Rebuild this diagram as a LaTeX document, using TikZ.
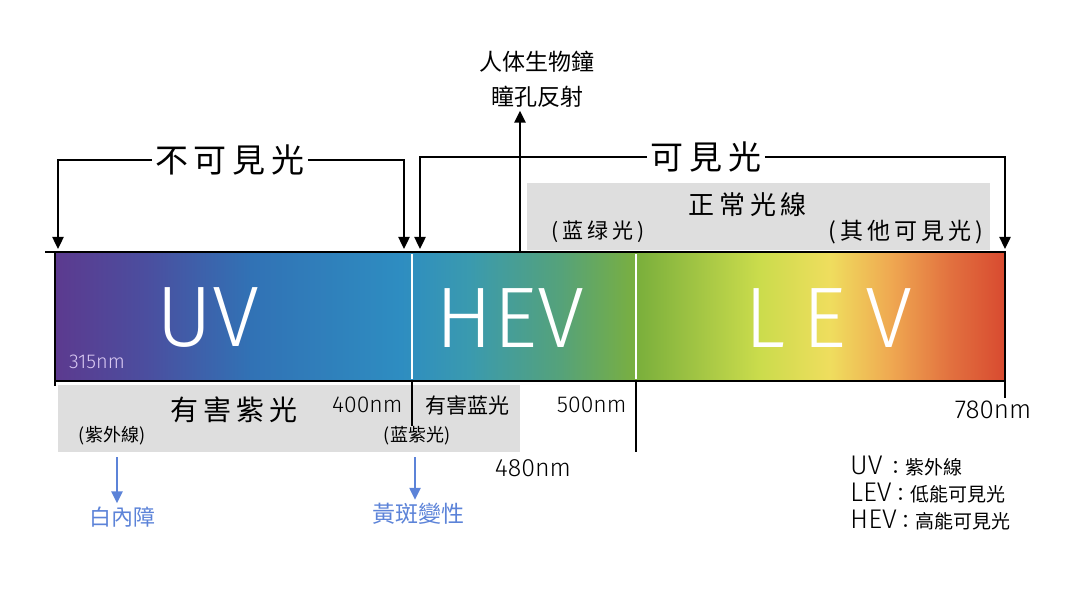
\documentclass[tikz,border=0pt]{standalone}
\usepackage{fontspec}
\setmainfont{Noto Sans CJK TC}
\newfontfamily\thin{Fira Sans}[UprightFont=* Light]
\newfontfamily\cjkwide{Noto Sans CJK TC}[LetterSpace=18]
\usetikzlibrary{arrows.meta}

\definecolor{sp1}{HTML}{5C3A8F}
\definecolor{sp2}{HTML}{4B4E9F}
\definecolor{sp3}{HTML}{3172B5}
\definecolor{sp4}{HTML}{2E8DC1}
\definecolor{sp5}{HTML}{3A9AAF}
\definecolor{sp6}{HTML}{55A27A}
\definecolor{sp7}{HTML}{7CB03C}
\definecolor{sp8}{HTML}{CBDC4C}
\definecolor{sp9}{HTML}{EFDD5E}
\definecolor{sp10}{HTML}{EFA851}
\definecolor{sp11}{HTML}{E2713F}
\definecolor{sp12}{HTML}{D84A30}
\definecolor{eyeblue}{HTML}{5C83D8}
\definecolor{boxgray}{HTML}{DEDEDE}
\definecolor{lilac}{HTML}{D9C9F2}

\pgfdeclarehorizontalshading{spectrum}{100bp}{color(0bp)=(sp1); color(25bp)=(sp1);
  color(29.8bp)=(sp2); color(35.3bp)=(sp3); color(43.2bp)=(sp4); color(46.8bp)=(sp5);
  color(51.6bp)=(sp6); color(55.8bp)=(sp7); color(62.1bp)=(sp8); color(65.8bp)=(sp9);
  color(69bp)=(sp10); color(72.1bp)=(sp11); color(75bp)=(sp12); color(100bp)=(sp12)}

\tikzset{
  arr/.style={-{Triangle[length=12pt,width=11pt]}, line width=2.4pt},
  eyearr/.style={arr, eyeblue},
  band/.style={white, font=\thin\fontsize{86}{90}\selectfont},
  nm/.style={font=\thin\fontsize{23}{26}\selectfont},
  title/.style={font=\cjkwide\fontsize{33}{36}\selectfont},
  sub/.style={font=\cjkwide\fontsize{21}{24}\selectfont},
  key/.style={anchor=west, inner sep=0pt, font=\fontsize{19}{22}\selectfont}
}

\begin{document}
\begin{tikzpicture}[x=1pt, y=-1pt]
  \useasboundingbox (0,0) rectangle (1080,615);

  % grey boxes
  \fill[boxgray] (527,183) rectangle (990,250);
  \fill[boxgray] (58,385) rectangle (520,452);

  % spectrum bar
  \shade[shading=spectrum] (55,252) rectangle (1005,381);
  \draw[line width=2.8pt] (45,252) -- (1005,252) -- (1005,398);
  \draw[line width=2.8pt] (55,252) -- (55,386);
  \draw[line width=2.6pt] (55,381) -- (1005,381);
  \draw[white, line width=2pt] (412,254) -- (412,379);
  \draw[white, line width=2pt] (636,254) -- (636,379);
  \draw[line width=1.6pt] (412,382) -- (412,426);
  \draw[line width=1.6pt] (636,382) -- (636,452);

  \node[band] (uv) at (208,318) {UV};
  \node[band] (hev) at (510,318) {HEV};
  \node[band] (lev) at (828,318) {L\hspace{18pt}E\hspace{18pt}V};
  \node[nm, lilac, font=\thin\fontsize{20}{22}\selectfont] (n315) at (97,362) {315nm};

  % titles and brackets
  \node[title] (invis) at (230,160) {不可見光};
  \node[title] (vis) at (706,157) {可見光};
  \node[align=center, font=\fontsize{23}{35}\selectfont] (clock) at (537,79) {人体生物鐘\\瞳孔反射};

  \coordinate (uvL) at (58,249);
  \coordinate (uvR) at (404,249);
  \coordinate (hevL) at (420,249);
  \coordinate (levR) at (1005,249);
  \coordinate (hevT) at (520,251);
  \draw[arr] (invis.west) -| (uvL);
  \draw[arr] (invis.east) -| (uvR);
  \draw[arr] (vis.west) -| (hevL);
  \draw[arr] (vis.east) -| (levR);
  \draw[arr] (hevT) -- (hevT |- clock.south);

  % normal light
  \node[font=\cjkwide\fontsize{26}{30}\selectfont] (normal) at (748,205) {正常光線};
  \node[sub] (bluegreen) at (598,232) {(蓝绿光)};
  \node[sub, font=\cjkwide\fontsize{23}{26}\selectfont] (others) at (906,232) {(其他可見光)};

  % harmful light
  \node[font=\cjkwide\fontsize{28}{30}\selectfont] (harmuv) at (234,410) {有害紫光};
  \node[font=\fontsize{18}{20}\selectfont] (uvnote) at (112,436) {(紫外線)};
  \node[nm, anchor=east] (n400) at (406,405) {400nm};
  \node[font=\fontsize{21}{24}\selectfont] (harmblue) at (467,405) {有害蓝光};
  \node[font=\fontsize{18}{20}\selectfont] (violet) at (417,436) {(蓝紫光)};
  \node[nm, font=\thin\fontsize{25}{28}\selectfont] (n480) at (533,468) {480nm};
  \node[nm, anchor=east] (n500) at (630,405) {500nm};
  \node[nm, font=\thin\fontsize{26}{28}\selectfont] (n780) at (993,410) {780nm};

  % effects on the eye
  \node[eyeblue, font=\fontsize{22}{24}\selectfont] (cataract) at (122,517) {白內障};
  \node[eyeblue, font=\fontsize{23}{24}\selectfont] (macula) at (418,514) {黃斑變性};
  \coordinate (uvB) at (117,457);
  \coordinate (hevB) at (415,457);
  \draw[eyearr] (uvB) -- (uvB |- cataract.north);
  \draw[eyearr] (hevB) -- (hevB |- macula.north);

  % legend
  \node[key] (keyuv) at (850,466) {{\thin\fontsize{27}{28}\selectfont UV} ：紫外線};
  \node[key] (keylev) at (850,493) {{\thin\fontsize{27}{28}\selectfont LEV}：低能可見光};
  \node[key] (keyhev) at (850,520) {{\thin\fontsize{27}{28}\selectfont HEV}：高能可見光};
\end{tikzpicture}
\end{document}
